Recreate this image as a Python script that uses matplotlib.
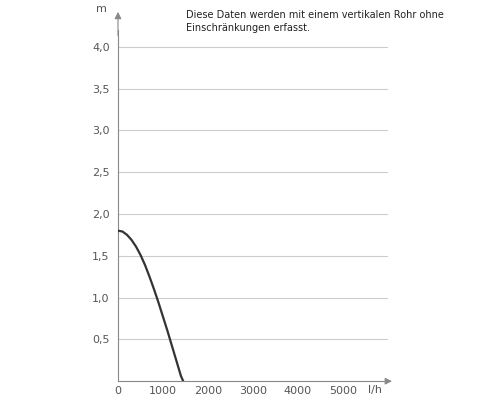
import matplotlib
matplotlib.use("Agg")
import matplotlib.pyplot as plt

# Kennlinie
durchfluss = [0, 100, 200, 300, 400, 500, 600, 700, 800, 900, 1000, 1100, 1200, 1300, 1400, 1450]
hoehe = [1.8, 1.79, 1.75, 1.69, 1.61, 1.51, 1.39, 1.25, 1.10, 0.94, 0.77, 0.60, 0.42, 0.24, 0.06, 0.0]
y_ticks = [0.5, 1.0, 1.5, 2.0, 2.5, 3.0, 3.5, 4.0]
y_labels = ["0,5", "1,0", "1,5", "2,0", "2,5", "3,0", "3,5", "4,0"]
x_ticks = [0, 1000, 2000, 3000, 4000, 5000]

fig = plt.figure(figsize=(5, 4), dpi=100)
ax = fig.add_axes([0.236, 0.047, 0.54, 0.878])
ax.set_xlim(0, 6000)
ax.set_ylim(0, 4.2)

grau = "#888888"
for y in y_ticks:
    ax.axhline(y, color="#cccccc", lw=0.8, zorder=1)
ax.plot(durchfluss, hoehe, color="#333333", lw=1.6, zorder=3)

for s in ["top", "right"]:
    ax.spines[s].set_visible(False)
for s in ["left", "bottom"]:
    ax.spines[s].set_color(grau)
ax.set_yticks(y_ticks)
ax.set_yticklabels(y_labels)
ax.set_xticks(x_ticks)
ax.set_xticklabels([str(v) for v in x_ticks])
ax.tick_params(length=0, colors="#555555", labelsize=8)
ax.tick_params(axis="y", pad=6)

# Pfeile an den Achsen
ax.annotate("", xy=(6150, 0), xytext=(5900, 0), annotation_clip=False,
            arrowprops=dict(arrowstyle="-|>", color=grau, lw=0.8))
ax.annotate("", xy=(0, 4.45), xytext=(0, 4.1), annotation_clip=False,
            arrowprops=dict(arrowstyle="-|>", color=grau, lw=0.8))
ax.text(-250, 4.45, "m", fontsize=8, color="#555555", ha="right", va="center")
ax.text(5550, -0.11, "l/h", fontsize=8, color="#555555", ha="left", va="center")

fig.text(0.372, 0.975, "Diese Daten werden mit einem vertikalen Rohr ohne\nEinschränkungen erfasst.",
         fontsize=7, color="#222222", ha="left", va="top", linespacing=1.4)

fig.savefig("out.png")
